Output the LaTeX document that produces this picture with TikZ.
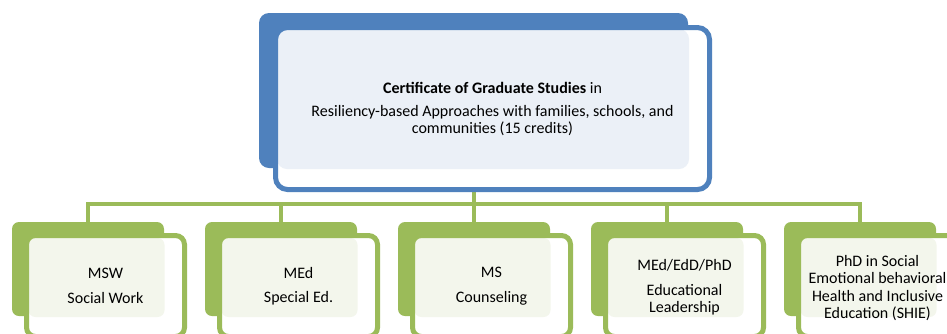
\documentclass[tikz,border=0pt]{standalone}
\usepackage{fontspec}
\setmainfont{Carlito}
\definecolor{mblue}{HTML}{4F81BD}
\definecolor{lblue}{HTML}{EBF0F7}
\definecolor{mgreen}{HTML}{9BBB59}
\definecolor{lgreen}{HTML}{F3F6EC}
\tikzset{
  conn/.style={draw=mgreen, line width=4pt},
  topback/.style={rectangle, fill=mblue, rounded corners=10pt, minimum width=429pt, minimum height=155pt, inner sep=0pt},
  toplight/.style={rectangle, fill=lblue, rounded corners=10pt, minimum width=412pt, minimum height=140pt, inner sep=0pt},
  topfront/.style={rectangle, draw=mblue, line width=5pt, rounded corners=12pt, minimum width=434pt, minimum height=162pt, inner sep=0pt},
  topwhite/.style={rectangle, fill=white, rounded corners=12pt, minimum width=434pt, minimum height=162pt, inner sep=0pt},
  chback/.style={rectangle, fill=mgreen, rounded corners=7pt, minimum width=152pt, minimum height=94pt, inner sep=0pt},
  chlight/.style={rectangle, fill=lgreen, rounded corners=7pt, minimum width=136pt, minimum height=79pt, inner sep=0pt},
  chwhite/.style={rectangle, fill=white, rounded corners=9pt, minimum width=158pt, minimum height=101pt, inner sep=0pt},
  chfront/.style={rectangle, draw=mgreen, line width=5pt, rounded corners=9pt, minimum width=158pt, minimum height=101pt, inner sep=0pt},
  toptext/.style={align=center, font=\fontsize{16}{17}\selectfont, inner sep=0pt},
  chtext/.style={align=center, font=\fontsize{16}{17.4}\selectfont, inner sep=0pt},
}
\begin{document}
\begin{tikzpicture}[x=1pt,y=-1pt]
\useasboundingbox (0,0) rectangle (947,333);
\clip (0,0) rectangle (947,333);
\fill[white] (0,0) rectangle (947,333);
% back boxes
\node[topback] (tb) at (473.5,90.5) {};
\foreach \i in {0,...,4} {
  \node[chback] (cb\i) at ({88+193*\i},269) {};
}
% connectors
\coordinate (bus) at (0,204);
\foreach \i in {0,...,4} {
  \draw[conn] (tb.south) -- (tb.south |- bus) -| (cb\i.north);
}
% top front box
\node[topwhite] (tw) at (492.5,108.5) {};
\node[toplight] (tl) at (483,99) {};
\node[topfront] (tf) at (492.5,108.5) {};
\node[toptext] (tt) at (492.5,109) {\textbf{Certificate of Graduate Studies} in\\[6pt]Resiliency-based Approaches with families, schools, and\\communities (15 credits)};
% children front boxes
\foreach \i in {0,...,4} {
  \node[chwhite] (cw\i) at ({105.5+193*\i},286) {};
  \node[chlight] (cl\i) at ({96.5+193*\i},277.5) {};
  \node[chfront] (cf\i) at ({105.5+193*\i},286) {};
}
\node[chtext] (c0) at (105.5,286) {MSW\\[7pt]Social Work};
\node[chtext] (c1) at (298.5,286) {MEd\\[7pt]Special Ed.};
\node[chtext] (c2) at (491.5,286) {MS\\[7pt]Counseling};
\node[chtext] (c3) at (684.5,287.5) {MEd/EdD/PhD\\[7.6pt]Educational\\Leadership};
\node[chtext] (c4) at (877.5,288) {PhD in Social\\Emotional behavioral\\Health and Inclusive\\Education (SHIE)};
\end{tikzpicture}
\end{document}
